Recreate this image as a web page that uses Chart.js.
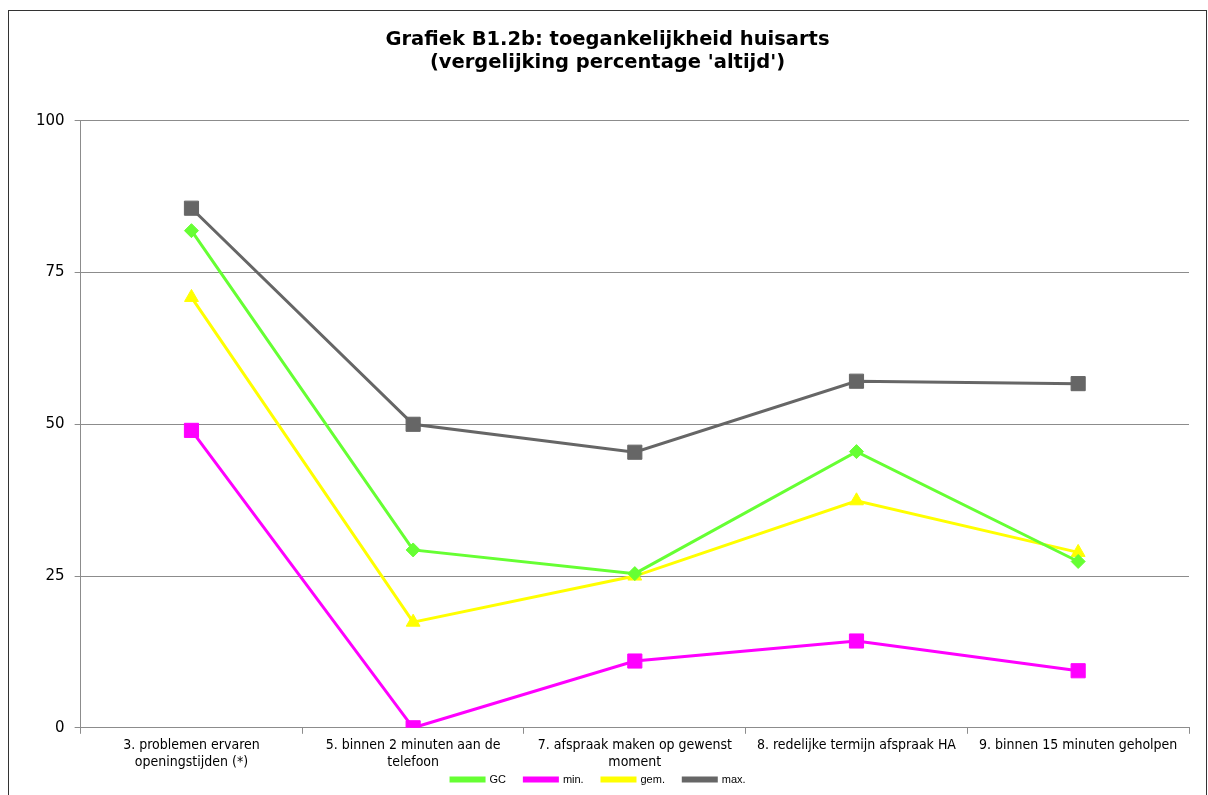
<!DOCTYPE html>
<html lang="nl">
<head>
<meta charset="UTF-8">
<title>Grafiek B1.2b</title>
<script src="https://cdn.jsdelivr.net/npm/chart.js"></script>
<style>
  body { margin: 0; background: #fff; }
  .wrap { position: relative; width: 1208px; height: 795px; }
  .frame {
    position: absolute; left: 8px; top: 10px; width: 1197px; height: 800px;
    border: 1px solid #333; border-bottom: none; pointer-events: none;
  }
  canvas { position: absolute; left: 0; top: 0; }
</style>
</head>
<body>
<div class="wrap">
  <canvas id="chart" width="1208" height="795"></canvas>
  <div class="frame"></div>
</div>
<script>
// categories (x axis), wrapped like the original
var categories = [
  ['3. problemen ervaren', 'openingstijden (*)'],
  ['5. binnen 2 minuten aan de', 'telefoon'],
  ['7. afspraak maken op gewenst', 'moment'],
  '8. redelijke termijn afspraak HA',
  '9. binnen 15 minuten geholpen'
];

// percentage 'altijd' per series
var gcValues  = [81.9, 29.3, 25.4, 45.5, 27.4];
var minValues = [49.0, 0.0, 11.0, 14.3, 9.4];
var gemValues = [70.9, 17.4, 25.0, 37.4, 28.9];
var maxValues = [85.6, 50.0, 45.4, 57.1, 56.7];

var yTicks = [0, 25, 50, 75, 100];

var ctx = document.getElementById('chart').getContext('2d');

function series(label, data, color, style, radius) {
  return {
    label: label,
    data: data,
    borderColor: color,
    backgroundColor: color,
    borderWidth: 3,
    pointStyle: style,
    pointRadius: radius,
    pointHoverRadius: radius,
    pointBorderWidth: 1,
    tension: 0
  };
}

new Chart(ctx, {
  type: 'line',
  data: {
    labels: categories,
    datasets: [
      series('GC', gcValues, '#66ff33', 'rectRot', 7),
      series('min.', minValues, '#ff00ff', 'rect', 10),
      series('gem.', gemValues, '#ffff00', 'triangle', 8),
      series('max.', maxValues, '#666666', 'rect', 10)
    ]
  },
  options: {
    responsive: false,
    animation: false,
    layout: { padding: { left: 26, right: 19, top: 16, bottom: 0 } },
    plugins: {
      title: {
        display: true,
        text: ['Grafiek B1.2b: toegankelijkheid huisarts', "(vergelijking percentage 'altijd')"],
        color: '#000',
        font: { family: 'DejaVu Sans', size: 19.5, weight: 'bold', lineHeight: 1.2 },
        padding: { top: 12, bottom: 46 }
      },
      legend: {
        position: 'bottom',
        labels: {
          color: '#000',
          font: { family: 'Liberation Sans', size: 11, lineHeight: 1 },
          boxWidth: 33,
          boxHeight: 3,
          padding: 0,
          // gaps between items come from trailing spaces, legend stays low
          generateLabels: function (chart) {
            var items = Chart.defaults.plugins.legend.labels.generateLabels(chart);
            items.forEach(function (it) { it.text = it.text + '      '; });
            return items;
          }
        }
      },
      tooltip: { enabled: false }
    },
    scales: {
      x: {
        offset: true,
        grid: {
          offset: true,
          drawOnChartArea: false,
          drawTicks: true,
          tickLength: 6,
          color: '#8c8c8c'
        },
        border: { color: '#8c8c8c', width: 1 },
        ticks: {
          color: '#000',
          font: { family: 'DejaVu Sans Condensed', size: 14, lineHeight: 1.15 },
          maxRotation: 0,
          autoSkip: false,
          padding: 4
        }
      },
      y: {
        min: 0,
        max: 100,
        afterBuildTicks: function (axis) {
          axis.ticks = yTicks.map(function (v) { return { value: v }; });
        },
        grid: { color: '#8c8c8c', tickLength: 6 },
        border: { color: '#8c8c8c', width: 1 },
        ticks: {
          color: '#000',
          font: { family: 'DejaVu Sans', size: 15 },
          padding: 10
        }
      }
    }
  }
});
</script>
</body>
</html>
